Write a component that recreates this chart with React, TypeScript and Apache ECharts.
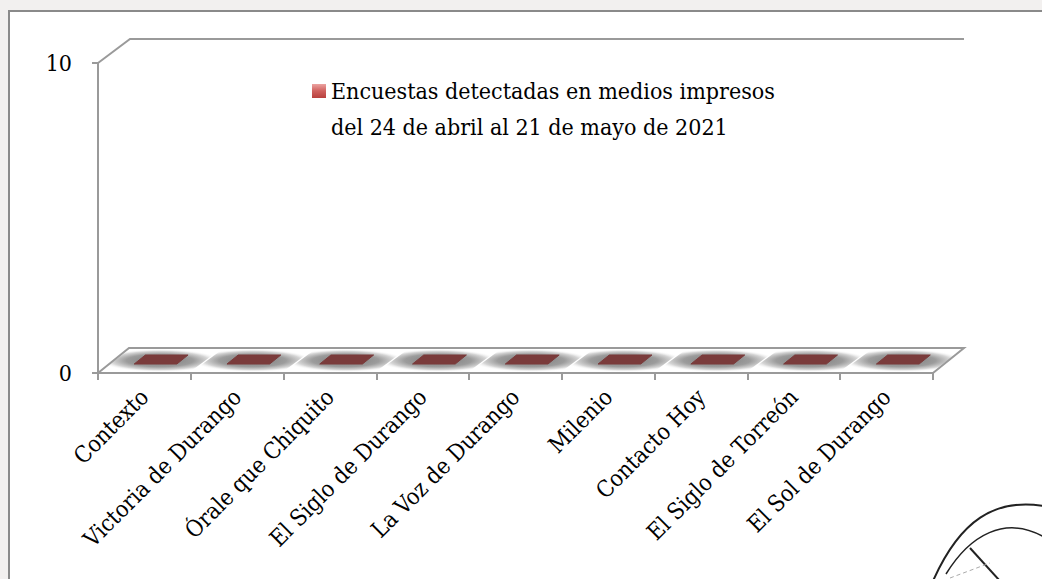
import React, { useEffect, useRef } from "react";
import * as echarts from "echarts";

const categories: string[] = [
  "Contexto",
  "Victoria de Durango",
  "Órale que Chiquito",
  "El Siglo de Durango",
  "La Voz de Durango",
  "Milenio",
  "Contacto Hoy",
  "El Siglo de Torreón",
  "El Sol de Durango",
];
const values: number[] = [0, 0, 0, 0, 0, 0, 0, 0, 0];
const seriesName = "Encuestas detectadas en medios impresos\ndel 24 de abril al 21 de mayo de 2021";
const yMin = 0;
const yMax = 10;
const yInterval = 10;

const FONT = "'DejaVu Serif Condensed', 'DejaVu Serif', serif";
const FS = 23;
const AXIS_COLOR = "#9a9a9a";
const GRID_LEFT = 98;
const GRID_TOP = 63;
const GRID_RIGHT_X = 933;
const GRID_BOTTOM_Y = 373;
const DX = 31;
const DY = -25;

export default function App() {
  const ref = useRef<HTMLDivElement>(null);

  useEffect(() => {
    if (!ref.current) return;
    const chart = echarts.init(ref.current, undefined, { renderer: "svg" });

    const renderItem = (params: any, api: any) => {
      const idx = api.value(0);
      const v = api.value(1);
      const base = api.coord([idx, 0]);
      const top = api.coord([idx, v]);
      const bw = api.size([1, 0])[0];
      const cx = base[0];
      const w = bw * 0.46;
      const d0 = 0.36;
      const d1 = 0.72;
      const children: any[] = [];
      const hx0 = cx - bw / 2 + 1;
      const hx1 = cx + bw / 2 - 1;
      children.push({
        type: "polygon",
        shape: {
          points: [
            [hx0, base[1] - 1],
            [hx1, base[1] - 1],
            [hx1 + DX, base[1] + DY + 1],
            [hx0 + DX, base[1] + DY + 1],
          ],
        },
        style: {
          fill: {
            type: "radial",
            x: 0.5,
            y: 0.5,
            r: 0.5,
            colorStops: [
              { offset: 0, color: "#7a7a7a" },
              { offset: 0.55, color: "#9c9c9c" },
              { offset: 0.8, color: "#d6d6d6" },
              { offset: 1, color: "rgba(255,255,255,0)" },
            ],
          },
        },
        silent: true,
      });
      const fx0 = cx - w / 2 + d0 * DX;
      const fx1 = cx + w / 2 + d0 * DX;
      const fy = base[1] + d0 * DY;
      const ty = top[1] + d0 * DY;
      const bdx = (d1 - d0) * DX;
      const bdy = (d1 - d0) * DY;
      if (fy - ty > 0.5) {
        children.push({
          type: "rect",
          shape: { x: fx0, y: ty, width: w, height: fy - ty },
          style: { fill: "#8c4141" },
        });
        children.push({
          type: "polygon",
          shape: {
            points: [
              [fx1, fy],
              [fx1, ty],
              [fx1 + bdx, ty + bdy],
              [fx1 + bdx, fy + bdy],
            ],
          },
          style: { fill: "#6a2f2f" },
        });
      }
      children.push({
        type: "polygon",
        shape: {
          points: [
            [fx0, ty],
            [fx1, ty],
            [fx1 + bdx, ty + bdy],
            [fx0 + bdx, ty + bdy],
          ],
        },
        style: { fill: "#7a3b3b", stroke: "#7a3b3b", lineWidth: 1, lineJoin: "round" },
      });
      return { type: "group", children };
    };

    const legendIcon = "path://M0,0 L14,0 L14,14 L0,14 Z M0,50 L0.01,50 L0.01,50.01 Z";

    chart.setOption({
      animation: false,
      backgroundColor: "#f2f0ef",
      textStyle: { fontFamily: FONT },
      grid: {
        left: GRID_LEFT,
        top: GRID_TOP,
        width: GRID_RIGHT_X - GRID_LEFT,
        height: GRID_BOTTOM_Y - GRID_TOP,
        containLabel: false,
      },
      legend: {
        show: true,
        left: 307,
        top: 68,
        itemWidth: 14,
        itemHeight: 50,
        itemGap: 6,
        icon: legendIcon,
        data: [
          {
            name: seriesName,
            icon: legendIcon,
            itemStyle: {
              color: {
                type: "linear",
                x: 0,
                y: 0,
                x2: 0,
                y2: 1,
                colorStops: [
                  { offset: 0, color: "#eba3a1" },
                  { offset: 0.14, color: "#d0605d" },
                  { offset: 0.28, color: "#b8403d" },
                  { offset: 0.28, color: "rgba(0,0,0,0)" },
                  { offset: 1, color: "rgba(0,0,0,0)" },
                ],
              },
            },
          },
        ],
        textStyle: {
          fontFamily: FONT,
          fontSize: FS,
          lineHeight: 36,
          color: "#000",
        },
        selectedMode: false,
      },
      xAxis: {
        type: "category",
        data: categories,
        boundaryGap: true,
        axisLine: { show: true, lineStyle: { color: AXIS_COLOR, width: 2 } },
        axisTick: { show: true, length: 7, lineStyle: { color: AXIS_COLOR, width: 2 } },
        axisLabel: {
          interval: 0,
          rotate: 45,
          margin: 20,
          fontFamily: FONT,
          fontSize: FS,
          color: "#000",
        },
        splitLine: { show: false },
      },
      yAxis: {
        type: "value",
        min: yMin,
        max: yMax,
        interval: yInterval,
        axisLine: { show: true, lineStyle: { color: AXIS_COLOR, width: 2 } },
        axisTick: { show: true, length: 6, lineStyle: { color: AXIS_COLOR, width: 2 } },
        axisLabel: { margin: 26, fontFamily: FONT, fontSize: FS, color: "#000" },
        splitLine: { show: false },
      },
      series: [
        {
          name: seriesName,
          type: "custom",
          renderItem,
          encode: { x: 0, y: 1 },
          data: values.map((v, i) => [i, v]),
          z: 2,
        },
      ],
      graphic: [
        {
          type: "rect",
          z: -10,
          shape: { x: 9, y: 11, width: 1045, height: 580 },
          style: { fill: "#ffffff", stroke: "#8a8a8a", lineWidth: 2 },
          silent: true,
        },
        {
          type: "polyline",
          z: 10,
          shape: {
            points: [
              [GRID_LEFT, GRID_TOP],
              [GRID_LEFT + DX + 1, GRID_TOP + DY + 1],
              [GRID_RIGHT_X + DX, GRID_TOP + DY + 1],
            ],
          },
          style: { stroke: AXIS_COLOR, lineWidth: 2, fill: null },
          silent: true,
        },
        {
          type: "polyline",
          z: 10,
          shape: {
            points: [
              [GRID_LEFT, GRID_BOTTOM_Y],
              [GRID_LEFT + DX, GRID_BOTTOM_Y + DY],
              [GRID_RIGHT_X + DX, GRID_BOTTOM_Y + DY],
              [GRID_RIGHT_X, GRID_BOTTOM_Y],
            ],
          },
          style: { stroke: AXIS_COLOR, lineWidth: 2, fill: null },
          silent: true,
        },
        {
          type: "bezierCurve",
          z: 10,
          shape: { x1: 933, y1: 581, cpx1: 960, cpy1: 520, cpx2: 995, cpy2: 498, x2: 1044, y2: 506 },
          style: { stroke: "#222", lineWidth: 2, fill: null },
          silent: true,
        },
        {
          type: "bezierCurve",
          z: 10,
          shape: { x1: 946, y1: 574, cpx1: 970, cpy1: 535, cpx2: 1005, cpy2: 515, x2: 1044, y2: 537 },
          style: { stroke: "#222", lineWidth: 1.5, fill: null },
          silent: true,
        },
        {
          type: "line",
          z: 10,
          shape: { x1: 970, y1: 548, x2: 1000, y2: 581 },
          style: { stroke: "#222", lineWidth: 2 },
          silent: true,
        },
        {
          type: "line",
          z: 10,
          shape: { x1: 950, y1: 578, x2: 990, y2: 563 },
          style: { stroke: "#aaa", lineWidth: 1, lineDash: [4, 3] },
          silent: true,
        },
      ],
    });

    return () => {
      chart.dispose();
    };
  }, []);

  return (
    <div style={{ position: "fixed", left: 0, top: 0, width: 1042, height: 579, overflow: "hidden" }}>
      <div ref={ref} style={{ width: 1042, height: 579 }} />
    </div>
  );
}
